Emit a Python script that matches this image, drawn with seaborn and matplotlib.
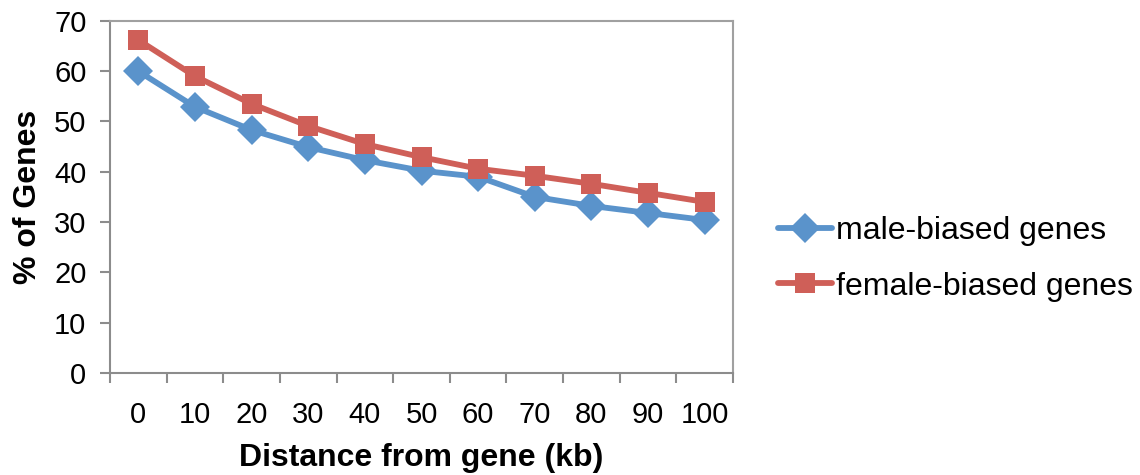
import matplotlib
matplotlib.use("Agg")
import matplotlib.pyplot as plt
import seaborn as sns
import pandas as pd
import numpy as np

distance = [0, 10, 20, 30, 40, 50, 60, 70, 80, 90, 100]
male_biased = [60.0, 52.9, 48.3, 44.9, 42.3, 40.2, 39.0, 35.0, 33.2, 31.8, 30.4]
female_biased = [66.2, 59.0, 53.5, 49.1, 45.5, 42.9, 40.6, 39.2, 37.6, 35.8, 34.0]
series_names = ["male-biased genes", "female-biased genes"]
y_ticks = [0, 10, 20, 30, 40, 50, 60, 70]

sns.set_theme(style="white")
plt.rcParams['font.family'] = ['Liberation Sans', 'DejaVu Sans']
plt.rcParams['text.color'] = 'black'
plt.rcParams['axes.labelcolor'] = 'black'
plt.rcParams['xtick.color'] = 'black'
plt.rcParams['ytick.color'] = 'black'

df = pd.DataFrame({
    "distance": distance * 2,
    "pct": male_biased + female_biased,
    "series": [series_names[0]] * len(distance) + [series_names[1]] * len(distance),
})

fig = plt.figure(figsize=(11.4, 4.75), dpi=100)
ax = fig.add_axes([0.0965, 0.215, 0.5465, 0.741])

palette = {series_names[0]: "#5A93CB", series_names[1]: "#CF5F58"}
markers = {series_names[0]: "D", series_names[1]: "s"}
sns.lineplot(data=df, x="distance", y="pct", hue="series", style="series",
             palette=palette, markers=markers, dashes=False, linewidth=4.2,
             markersize=15, markeredgewidth=0, ax=ax)

ax.set_xlim(-5, 105)
ax.set_ylim(0, 70)
ax.set_yticks(y_ticks)
ax.set_xticks(distance)
ax.set_xticks(np.arange(-5, 106, 10), minor=True)
ax.tick_params(axis='x', which='major', length=0, labelsize=21, pad=20, labelcolor='black')
ax.tick_params(axis='x', which='minor', length=7, width=1.5, color='#8c8c8c', direction='out')
ax.tick_params(axis='y', which='major', length=7, width=1.5, color='#8c8c8c', direction='out',
               labelsize=21, pad=10, labelcolor='black')
ax.xaxis.set_ticks_position('bottom')
ax.yaxis.set_ticks_position('left')
for s in ax.spines.values():
    s.set_visible(True)
    s.set_color('#a0a0a0')
    s.set_linewidth(1.5)
ax.spines['left'].set_color('#8c8c8c')
ax.spines['bottom'].set_color('#8c8c8c')

ax.set_xlabel("Distance from gene (kb)", fontsize=23, fontweight='bold', labelpad=10, color='black')
ax.set_ylabel("% of Genes", fontsize=23, fontweight='bold', labelpad=8, color='black')
ax.grid(False)

leg = ax.legend(title=None, loc='center left', bbox_to_anchor=(0.6825, 0.455),
                bbox_transform=fig.transFigure, frameon=False, fontsize=23,
                handlelength=1.7, handletextpad=0.1, labelspacing=0.8, borderaxespad=0,
                borderpad=0)
for t in leg.get_texts():
    t.set_color('black')

fig.savefig("out.png", dpi=100, facecolor='white')
